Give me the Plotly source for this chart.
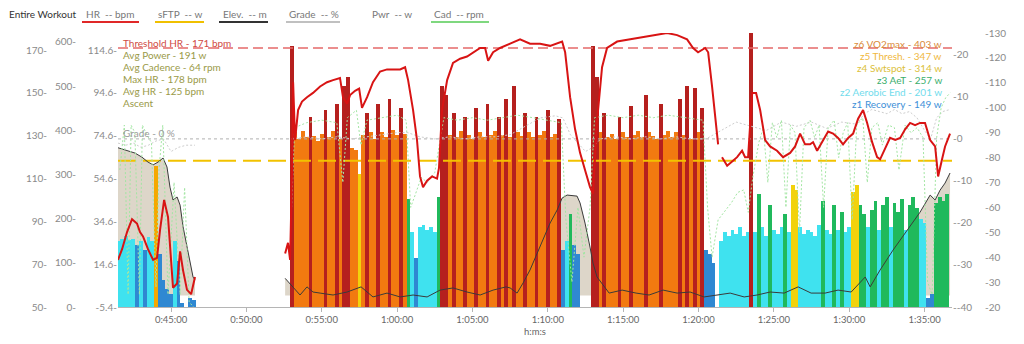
import plotly.graph_objects as go

# ---------------- data ----------------
x_range = [41.48, 96.82]
tick_min = [45, 50, 55, 60, 65, 70, 75, 80, 85, 90, 95]
tick_lbl = ["0:45:00", "0:50:00", "0:55:00", "1:00:00", "1:05:00", "1:10:00",
            "1:15:00", "1:20:00", "1:25:00", "1:30:00", "1:35:00"]

hr_t = [41.48, 41.75, 42.08, 42.41, 42.74, 42.94, 43.14, 43.47, 43.81, 44.07, 44.27, 44.54, 44.80, 45.00,
        45.13, 45.40, 45.60, 45.80, 46.06, 46.33, 46.59,
        49.5,
        52.57, 52.76, 52.90, 53.03, 53.10, 53.23, 53.43, 53.69, 54.02, 54.42, 54.89, 55.35, 55.75, 56.21,
        56.41, 56.68, 56.88, 57.21, 57.48, 57.67, 58.01, 58.40, 58.87, 59.33, 59.73, 60.20, 60.53, 60.73,
        61.06, 61.32, 61.52, 61.72, 61.99, 62.32, 62.65, 62.78, 62.98, 63.32, 63.71, 64.18, 64.64, 65.04,
        65.51, 65.84, 66.04, 66.37, 66.83, 67.50, 68.16, 68.82, 69.49, 70.15, 70.95, 71.15, 71.48, 71.81,
        72.14, 72.47, 72.80, 73.00, 73.27, 73.60, 73.93, 74.60, 75.46, 76.32, 77.25, 77.91, 78.58, 79.24,
        79.64, 79.97, 80.44, 80.64, 80.90, 81.10, 81.30,
        81.43,
        81.56, 81.90, 82.23, 82.56, 82.89, 83.09, 83.29, 83.56, 83.82, 84.09, 84.42, 84.75, 85.21, 85.61,
        86.08, 86.41, 86.74, 87.07, 87.40, 87.60, 87.87, 88.20, 88.60, 88.93, 89.26, 89.59, 89.93, 90.26,
        90.59, 90.92, 91.19, 91.52, 91.85, 92.05, 92.38, 92.71, 93.05, 93.38, 93.71, 94.04, 94.37, 94.70,
        95.03, 95.37, 95.70, 95.90, 96.16, 96.36, 96.69]
hr_bpm = [72, 77, 85, 91, 89, 85, 83, 77, 72, 73, 86, 100, 92, 71, 59, 61, 76, 67, 58, 56, 64,
          None,
          75, 80, 72, 114, 155, 128, 142, 146, 148, 150, 153, 155, 156, 157, 148, 145, 149, 151, 152, 143,
          148, 155, 160, 161, 161, 161, 162, 156, 142, 128, 111, 106, 109, 111, 110, 115, 142, 156, 164,
          166, 167, 169, 171, 171, 165, 169, 171, 173, 175, 173, 173, 172, 174, 169, 148, 133, 122, 114,
          106, 103, 137, 162, 171, 174, 175, 176, 177, 178, 177, 175, 171, 169, 171, 169, 153, 139, 126,
          None,
          120, 116, 118, 120, 123, 120, 120, 150, 150, 142, 128, 125, 123, 120, 122, 125, 131, 126, 126,
          127, 123, 127, 132, 131, 129, 126, 129, 131, 138, 142, 136, 127, 120, 119, 124, 129, 128, 129,
          133, 136, 135, 136, 136, 128, 125, 111, 119, 125, 131]

elev_t = [41.48, 41.95, 42.61, 43.07, 43.47, 43.81, 44.14, 44.47, 44.73, 44.93, 45.13, 45.40, 45.60, 45.80,
          46.06, 46.26, 46.46, 46.59,
          49.5,
          52.57, 53.10, 53.56, 54.02, 54.42, 54.89, 55.75, 56.68, 57.61, 58.40, 59.33, 60.20, 61.06, 61.99,
          62.85, 63.71, 64.64, 65.51, 66.37, 67.23, 67.50, 67.96, 68.36, 68.82, 69.49, 70.15, 70.62, 70.95,
          71.28, 71.94, 72.14, 72.47, 72.80, 73.00, 73.27, 74.07, 74.93, 75.86, 76.72, 77.65, 78.58, 79.44,
          80.37, 81.23, 82.10, 83.03, 83.89, 84.75, 85.68, 86.61, 87.47, 88.40, 89.26, 90.13, 90.73, 91.06,
          91.39, 92.05, 92.91, 93.84, 94.70, 95.37, 95.70, 96.03, 96.36, 96.69]
elev_m = [69, 68, 66.5, 64.6, 62.3, 61, 62.3, 64.2, 60, 50.6, 44.6, 46, 42.2, 32, 22.6, 15.1, 8.6, 7.2,
          None,
          8, 4, 0.2, 4, 1.6, 1.1, 0.2, 1.6, 4, -0.7, 1.1, -0.7, 0.2, -0.7, 2.5, 3.5, 1.6, 0.2, 2.5, 4,
          3.5, 1.1, 5.8, 11.9, 22.6, 33.8, 39.9, 45.5, 46.9, 46.4, 43.2, 33.8, 22.6, 15.1, 8.6, 1.1, 2.5,
          1.1, 0.2, 2.5, 1.1, 1.6, -0.7, 0.2, 1.1, -0.7, 0.2, 1.6, 1.1, 4, 1.1, 1.1, 2.5, 1.6, 5.8, 8.6,
          4, 11.9, 21.2, 30.6, 38.9, 46.9, 44.6, 49.2, 52.5, 57.2]

grade_t = [41.48, 42.0, 42.5, 43.0, 43.5, 44.0, 44.5, 45.0, 45.5, 46.0, 46.59, 49.5, 53.0, 54.0, 55.0, 56.0,
           57.0, 58.0, 59.0, 60.0, 60.7, 61.5, 62.5, 63.5, 64.5, 65.5, 66.5, 67.5, 68.5, 69.5, 70.5, 71.0,
           71.5, 72.0, 72.5, 73.0, 73.5, 74.5, 75.5, 76.5, 77.5, 78.5, 79.5, 80.5, 81.5, 82.5, 83.5, 84.5,
           85.5, 86.5, 87.5, 88.5, 89.5, 90.5, 91.0, 91.5, 92.0, 92.5, 93.0, 93.5, 94.0, 94.5, 95.0, 95.4,
           95.8, 96.2, 96.69]
grade_pct = [-1, -1.5, -1, -2, -1.5, -0.5, 0, -3, -2, -1.5, -1.5, None, 0, 0.5, 0, 0.5, 0, 0.5, 1, 1.5,
             1.5, 0.5, 0, 0.5, 0, 0.5, 0.5, 1, 3, 5, 5.5, 5, 1, -1, -3, -2, 0, 0.5, 0, 0.5, 0, 0.5, 0, 0,
             2, 4, 3, 2, 4, 3, 4, 2.5, 4, 3.5, 6, 7, 6.5, 6, 7, 6, 6.5, 5, 2, 0, 5, 6.5, 7]

cad_t = [41.6, 41.9, 42.15, 42.35, 42.6, 42.9, 43.1, 43.4, 43.7, 44.0, 44.2, 44.45, 44.8, 45.2, 45.6, 45.9,
         46.2, 46.5, 49.5, 53.0, 53.2, 54.0, 55.0, 56.0, 56.4, 56.7, 57.3, 57.6, 58.0, 59.0, 60.0, 60.6,
         60.9, 61.2, 61.6, 62.0, 62.5, 62.8, 63.1, 64.0, 65.0, 66.0, 67.0, 68.0, 69.0, 70.0, 70.9, 71.2,
         71.6, 72.0, 72.4, 72.8, 73.1, 74.0, 75.0, 76.0, 77.0, 78.0, 79.0, 80.3, 80.6, 80.9, 81.3, 81.7,
         82.2, 82.6, 83.0, 83.3, 83.6, 84.0, 84.3, 84.6, 84.9, 85.2, 85.5, 85.8, 86.1, 86.4, 86.7, 87.0,
         87.4, 87.7, 88.0, 88.3, 88.6, 89.0, 89.3, 89.6, 89.9, 90.2, 90.5, 90.9, 91.2, 91.5, 91.9, 92.2,
         92.6, 93.0, 93.3, 93.7, 94.1, 94.5, 94.9, 95.2, 95.5, 95.8, 96.1, 96.4, 96.7]
cad_rpm = [75, 93, 25, 93, 90, 25, 93, 89, 86, 28, 75, 93, 25, 70, 25, 68, 22, 20, None, 60,
           92, 94, 95, 94, 70, 96, 99, 85, 95, 96, 97, 95, 60, 65, 72, 70, 74, 85, 96, 95,
           96, 95, 96, 97, 96, 95, 94, 55, 30, 60, 40, 60, 96, 97, 96, 97, 96, 97, 96, 95,
           60, 40, 55, 58, 62, 66, 67, 58, 72, 86, 92, 70, 94, 88, 95, 60, 93, 90, 50, 92,
           95, 88, 93, 60, 92, 95, 80, 90, 94, 55, 93, 96, 70, 92, 94, 85, 93, 92, 75, 93,
           90, 92, 88, 30, 25, 88, 100, 104, 106]

# power samples, one every 0.25 min, per segment
PWR_STEP = 0.25
pwr_seg1_start = 41.5
pwr_seg1 = [150, 155, 160, 152, 155, 140, 150, 130, 158, 150, 320, 120, 60, 40, 30, 150, 105, 10, 0, 20, 15]
pwr_seg2_start = 53.0
pwr_seg2 = [590, 395, 380, 398, 385, 430, 388, 375, 392, 445, 385, 398, 460, 380, 500, 520, 360, 355, 300, 390,
            440, 395, 380, 460, 395, 385, 470, 400, 390, 450, 392, 245, 170, 110, 180, 185, 175, 180, 170, 250]
pwr_seg3_start = 63.0
pwr_seg3 = [500, 480, 390, 440, 385, 398, 430, 390, 380, 450, 395, 385, 460, 390, 398, 430, 390, 470, 385, 500,
            395, 388, 440, 395, 385, 430, 390, 398, 445, 385, 392, 425, 130, 150, 210, 140, 120, 0, 0, 0]
pwr_seg4_start = 73.0
pwr_seg4 = [590, 520, 395, 440, 385, 392, 380, 430, 395, 385, 455, 390, 398, 385, 480, 395, 388, 380, 460, 390,
            398, 385, 395, 470, 390, 500, 380, 495, 395, 450]
pwr_seg5_start = 80.5
pwr_seg5 = [130, 120, 100, 0, 150, 170, 160, 175, 165, 180, 160, 170, 630, 170, 255, 180, 160, 230, 175, 165,
            180, 210, 170, 275, 265, 180, 165, 175, 170, 160, 185, 240, 175, 165, 230, 175, 215, 170, 180, 260,
            275, 230, 210, 180, 220, 240, 175, 230, 250, 180, 235, 215, 245, 175, 230, 250, 225, 200, 190, 20,
            30, 235, 250, 240, 255]

zone_limits = [149, 201, 257, 314, 347, 403]
zone_labels = ["z6 VO2max - 403 w", "z5 Thresh. - 347 w", "z4 Swtspot - 314 w",
               "z3 AeT - 257 w", "z2 Aerobic End - 201 w", "z1 Recovery - 149 w"]
sftp_w = 331
threshold_hr = 171
stats_lines = ["Avg Power - 191 w", "Avg Cadence - 64 rpm", "Max HR - 178 bpm", "Avg HR - 125 bpm", "Ascent"]

elev_ticks = [-5.4, 14.6, 34.6, 54.6, 74.6, 94.6, 114.6]
pwr_ticks = [0, 100, 200, 300, 400, 500, 600]
hr_ticks = [50, 70, 90, 110, 130, 150, 170]
grade_ticks = [-40, -30, -20, -10, 0, 10, 20]
cad_ticks = [20, 30, 40, 50, 60, 70, 80, 90, 100, 110, 120, 130]

# ---------------- styling ----------------
W, H = 1024, 344
PL, PR, PT, PB = 118, 952, 33, 307
zone_bar_colors = ["#2f88d2", "#3fe2ef", "#20b95c", "#f2d20c", "#f5a800", "#f27a10", "#b5201e"]
zone_text_colors = ["#d98a3a", "#f0b840", "#dcbf3c", "#3aae6c", "#72dcec", "#3d8fd8"]
GREY = "#8a8a8a"
FONT = "Lato"


def zone_color(w):
    if w is None:
        return zone_bar_colors[0]
    for i, lim in enumerate(zone_limits):
        if w < lim:
            return zone_bar_colors[i]
    return zone_bar_colors[-1]


pwr_t, pwr_w = [], []
for start, seg in [(pwr_seg1_start, pwr_seg1), (pwr_seg2_start, pwr_seg2), (pwr_seg3_start, pwr_seg3),
                   (pwr_seg4_start, pwr_seg4), (pwr_seg5_start, pwr_seg5)]:
    for i, v in enumerate(seg):
        pwr_t.append(start + i * PWR_STEP)
        pwr_w.append(v)
pwr_colors = [zone_color(v) for v in pwr_w]


def split_segments(ts, vs):
    segs, cur_t, cur_v = [], [], []
    for t, v in zip(ts, vs):
        if v is None:
            if cur_t:
                segs.append((cur_t, cur_v))
            cur_t, cur_v = [], []
        else:
            cur_t.append(t)
            cur_v.append(v)
    if cur_t:
        segs.append((cur_t, cur_v))
    return segs


fig = go.Figure()
# elevation fill (behind bars), one fill per continuous segment
for st, sv in split_segments(elev_t, elev_m):
    fig.add_trace(go.Scatter(x=st, y=sv, yaxis="y", mode="lines", fill="tozeroy",
                             fillcolor="#ddd6c9", line=dict(width=0, color="rgba(0,0,0,0)"),
                             hoverinfo="skip"))
# power bars
fig.add_trace(go.Bar(x=pwr_t, y=pwr_w, yaxis="y2", width=PWR_STEP,
                     marker=dict(color=pwr_colors, line=dict(width=0))))
# sFTP line
fig.add_trace(go.Scatter(x=x_range, y=[sftp_w, sftp_w], yaxis="y2", mode="lines",
                         line=dict(color="#f2c200", width=2, dash="18px,7px")))
# elevation line (above bars)
fig.add_trace(go.Scatter(x=elev_t, y=elev_m, yaxis="y3", mode="lines",
                         line=dict(color="#3a3a3a", width=1), connectgaps=False))
# grade
fig.add_trace(go.Scatter(x=x_range, y=[0, 0], yaxis="y4", mode="lines",
                         line=dict(color="#b0b0b0", width=1, dash="3px,3px")))
fig.add_trace(go.Scatter(x=grade_t, y=grade_pct, yaxis="y4", mode="lines",
                         line=dict(color="#cdcdcd", width=1, dash="2px,2px"), connectgaps=False))
# cadence
fig.add_trace(go.Scatter(x=cad_t, y=cad_rpm, yaxis="y5", mode="lines",
                         line=dict(color="#a3e6a3", width=1, dash="2px,2px"), connectgaps=False))
# HR
fig.add_trace(go.Scatter(x=x_range, y=[threshold_hr, threshold_hr], yaxis="y6", mode="lines",
                         line=dict(color="#e56a6a", width=1.5, dash="10px,5px")))
fig.add_trace(go.Scatter(x=hr_t, y=hr_bpm, yaxis="y6", mode="lines",
                         line=dict(color="#d81414", width=2), connectgaps=False))

tickfont = dict(size=10, color=GREY, family=FONT)
elev_range = [-5.4, 122.6]


def left_labels(vals):
    return [("%g" % v) + "-" for v in vals]


def right_labels(vals):
    return ["-" + ("%g" % v) for v in vals]


fig.update_layout(
    width=W, height=H, autosize=False,
    margin=dict(l=0, r=0, t=PT, b=H - PB, pad=0),
    paper_bgcolor="white", plot_bgcolor="white",
    showlegend=False, bargap=0,
    font=dict(family=FONT, color=GREY),
    xaxis=dict(domain=[PL / W, PR / W], range=x_range, tickvals=tick_min, ticktext=tick_lbl,
               tickfont=dict(size=9.5, color="#666", family=FONT), showgrid=False, zeroline=False,
               showline=True, linecolor="#b5b5b5", linewidth=1, ticks="outside", ticklen=4,
               tickcolor="#b5b5b5",
               title=dict(text="h:m:s", font=dict(size=9.5, color="#666", family=FONT), standoff=3)),
    yaxis=dict(range=elev_range, tickvals=elev_ticks, ticktext=left_labels(elev_ticks), tickfont=tickfont,
               showgrid=False, zeroline=False, showline=False, ticks=""),
    yaxis2=dict(overlaying="y", anchor="free", position=76 / W, side="left", range=[0, 620],
                tickvals=pwr_ticks, ticktext=left_labels(pwr_ticks), tickfont=tickfont,
                showgrid=False, zeroline=False, showline=False, ticks=""),
    yaxis3=dict(overlaying="y", range=elev_range, visible=False),
    yaxis4=dict(overlaying="y", anchor="x", side="right", range=[-40, 25.2],
                tickvals=grade_ticks, ticktext=right_labels(grade_ticks), tickfont=tickfont,
                showgrid=False, zeroline=False, showline=False, ticks=""),
    yaxis5=dict(overlaying="y", anchor="free", position=984 / W, side="right", range=[20, 130],
                tickvals=cad_ticks, ticktext=right_labels(cad_ticks), tickfont=tickfont,
                showgrid=False, zeroline=False, showline=False, ticks=""),
    yaxis6=dict(overlaying="y", anchor="free", position=47 / W, side="left", range=[50, 178],
                tickvals=hr_ticks, ticktext=left_labels(hr_ticks), tickfont=tickfont,
                showgrid=False, zeroline=False, showline=False, ticks=""),
)

ann = []
shapes = []


def px(x):
    return x / W


def py(y):
    return (PB - y) / (PB - PT)


def txt(x, y, s, color, size=10, xanchor="left"):
    ann.append(dict(x=px(x), y=py(y), xref="paper", yref="paper", text=s, showarrow=False,
                    xanchor=xanchor, yanchor="middle", font=dict(color=color, size=size, family=FONT)))


def uline(x0, x1, y, color):
    shapes.append(dict(type="line", xref="paper", yref="paper", x0=px(x0), x1=px(x1), y0=py(y), y1=py(y),
                       line=dict(color=color, width=2)))


# top header / legend
txt(7, 14, "Entire Workout", "#333", 10)
legend_items = [(84, "HR  -- bpm", "#e02828", 82, 139), (156, "sFTP  -- w", "#f0c000", 155, 204),
                (221, "Elev.  -- m", "#333333", 219, 268), (287, "Grade  -- %", "#c0c0c0", 286, 340),
                (370, "Pwr  -- w", None, 0, 0), (432, "Cad  -- rpm", "#7fd87f", 431, 489)]
for x, s, c, u0, u1 in legend_items:
    txt(x, 14, s, "#777", 10)
    if c:
        uline(u0, u1, 22, c)

# stats text (left)
txt(121, 43, "Threshold HR - 171 bpm", "#cf4a43", 10)
for i, s in enumerate(stats_lines):
    txt(121, 55 + 12 * i, s, "#9a9a48", 10)
txt(121, 133, "Grade - 0 %", "#9a9a9a", 10)

# zone labels (right)
for i, s in enumerate(zone_labels):
    txt(944, 44 + 12 * i, s, zone_text_colors[i], 10, xanchor="right")

fig.update_layout(annotations=ann, shapes=shapes)
fig.write_html("out.html")
